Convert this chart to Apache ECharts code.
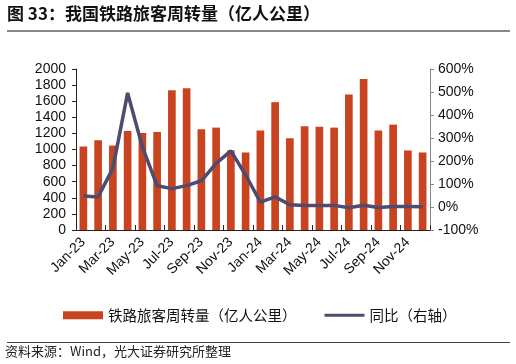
<!DOCTYPE html>
<html><head><meta charset="utf-8">
<script src="https://cdn.jsdelivr.net/npm/echarts@6/dist/echarts.min.js"></script>
<style>html,body{margin:0;padding:0;background:#fff}#c{width:516px;height:364px}</style>
</head><body><div id="c"></div>
<script>
var categories = ['Jan-23','Feb-23','Mar-23','Apr-23','May-23','Jun-23','Jul-23','Aug-23','Sep-23','Oct-23','Nov-23','Dec-23',
                  'Jan-24','Feb-24','Mar-24','Apr-24','May-24','Jun-24','Jul-24','Aug-24','Sep-24','Oct-24','Nov-24','Dec-24'];
var volume = [1037,1115,1049,1230,1206,1218,1737,1761,1251,1272,990,963,
              1235,1588,1140,1288,1284,1272,1683,1877,1235,1309,988,963];
var yoy = [48,44,168,496,261,92,80,93,114,190,244,139,
           21,44,10,7,7,7,-3,8,-2,2,2,1];
var leftTicks = {min:0,max:2000,interval:200};
var rightTicks = {min:-100,max:600,interval:100};
var barName = '铁路旅客周转量（亿人公里）';
var lineName = '同比（右轴）';

var chart = echarts.init(document.getElementById('c'), null, {renderer:'canvas'});
var lab = {color:'#111', fontSize:14, fontFamily:'Liberation Sans, Arial, sans-serif'};
chart.setOption({
  animation:false,
  backgroundColor:'#fff',
  grid:{left:76, right:86, top:69, bottom:134, containLabel:false},
  legend:{
    left:63, top:308, padding:0, itemGap:28, itemWidth:40, itemHeight:8,
    textStyle:{fontSize:14.5, color:'#111', fontFamily:'Noto Sans CJK SC'},
    data:[{name:barName, icon:'rect'},{name:lineName, icon:'path://M0,0h40v3h-40z'}]
  },
  xAxis:{
    type:'category', data:categories, boundaryGap:true,
    axisLine:{lineStyle:{color:'#222', width:1}},
    axisTick:{show:true, inside:true, interval:1, length:5, lineStyle:{color:'#222'}},
    axisLabel:Object.assign({rotate:45, interval:1, margin:10}, lab)
  },
  yAxis:[
    {type:'value', min:leftTicks.min, max:leftTicks.max, interval:leftTicks.interval,
     splitLine:{show:false},
     axisLine:{show:true, lineStyle:{color:'#222'}},
     axisTick:{show:true, length:4, lineStyle:{color:'#222'}},
     axisLabel:Object.assign({margin:10, formatter:function(v){return String(v);}}, lab)},
    {type:'value', min:rightTicks.min, max:rightTicks.max, interval:rightTicks.interval,
     splitLine:{show:false},
     axisLine:{show:true, lineStyle:{color:'#888'}},
     axisTick:{show:true, length:4, lineStyle:{color:'#888'}},
     axisLabel:Object.assign({margin:8, formatter:function(v){return v + '%';}}, lab)}
  ],
  series:[
    {name:barName, type:'bar', data:volume, barWidth:'52%', itemStyle:{color:'#C8431F'}},
    {name:lineName, type:'line', yAxisIndex:1, data:yoy, symbol:'none', showSymbol:false,
     lineStyle:{color:'#4D4B70', width:3.5}, itemStyle:{color:'#4D4B70'}}
  ],
  graphic:[
    {type:'text', left:7, top:5, style:{text:'图 33：我国铁路旅客周转量（亿人公里）', fontSize:17, fontWeight:'bold', fill:'#111', fontFamily:'Noto Sans CJK SC'}},
    {type:'line', shape:{x1:7,y1:31,x2:510,y2:31}, style:{stroke:'#111', lineWidth:1}},
    {type:'line', shape:{x1:7,y1:342.5,x2:510,y2:342.5}, style:{stroke:'#444', lineWidth:1}},
    {type:'text', left:5, top:345, style:{text:'资料来源：Wind，光大证券研究所整理', fontSize:13, fill:'#222', fontFamily:'Noto Sans CJK SC'}}
  ]
});
</script></body></html>
